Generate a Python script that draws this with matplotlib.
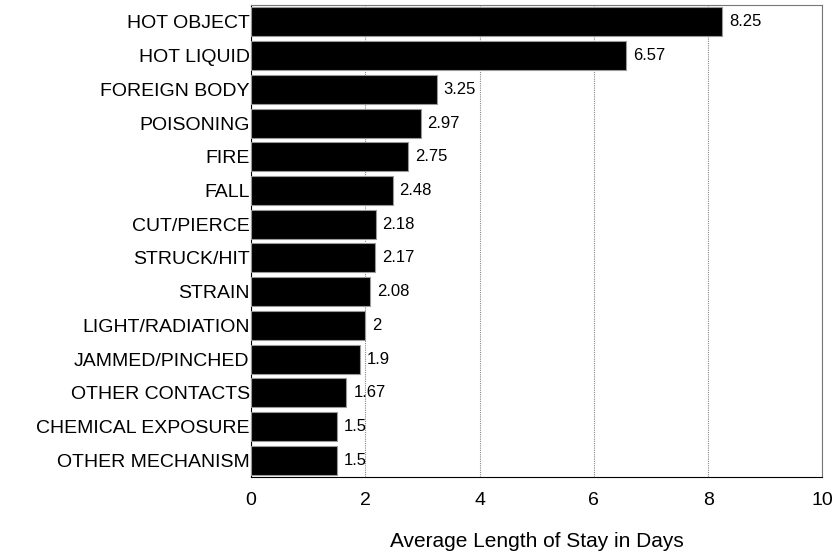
import matplotlib
matplotlib.use("Agg")
import matplotlib.pyplot as plt

plt.rcParams['font.family'] = ['Liberation Sans', 'DejaVu Sans']

categories = ['HOT OBJECT', 'HOT LIQUID', 'FOREIGN BODY', 'POISONING', 'FIRE', 'FALL',
              'CUT/PIERCE', 'STRUCK/HIT', 'STRAIN', 'LIGHT/RADIATION', 'JAMMED/PINCHED',
              'OTHER CONTACTS', 'CHEMICAL EXPOSURE', 'OTHER MECHANISM']
values = [8.25, 6.57, 3.25, 2.97, 2.75, 2.48, 2.18, 2.17, 2.08, 2, 1.9, 1.67, 1.5, 1.5]
value_labels = ['8.25', '6.57', '3.25', '2.97', '2.75', '2.48', '2.18', '2.17', '2.08',
                '2', '1.9', '1.67', '1.5', '1.5']

fig = plt.figure(figsize=(8.34, 5.56), dpi=100)
ax = fig.add_axes([0.301, 0.142, 0.685, 0.849])

y = list(range(len(categories)))
ax.barh(y, values, height=0.86, color='black', edgecolor='#999999', linewidth=0.8, zorder=3)
for yi, v, lab in zip(y, values, value_labels):
    ax.text(v + 0.12, yi, lab, va='center', ha='left', fontsize=12, zorder=4)

ax.set_ylim(len(categories) - 0.5, -0.5)
ax.set_xlim(0, 10)
ax.set_yticks(y)
ax.set_yticklabels(categories, fontsize=14)
ax.set_xticks([0, 2, 4, 6, 8, 10])
ax.set_xticklabels(['0', '2', '4', '6', '8', '10'], fontsize=14)
ax.tick_params(axis='x', length=0, pad=11)
ax.tick_params(axis='y', length=0, pad=1)
ax.xaxis.grid(True, linestyle=(0, (1, 1)), color='#888888', linewidth=0.8, zorder=0)
ax.set_xlabel('Average Length of Stay in Days', fontsize=15, labelpad=16)

for side in ['top', 'right']:
    ax.spines[side].set_color('#777777')
for side in ['bottom', 'left']:
    ax.spines[side].set_color('black')

fig.savefig('out.png', dpi=100)
